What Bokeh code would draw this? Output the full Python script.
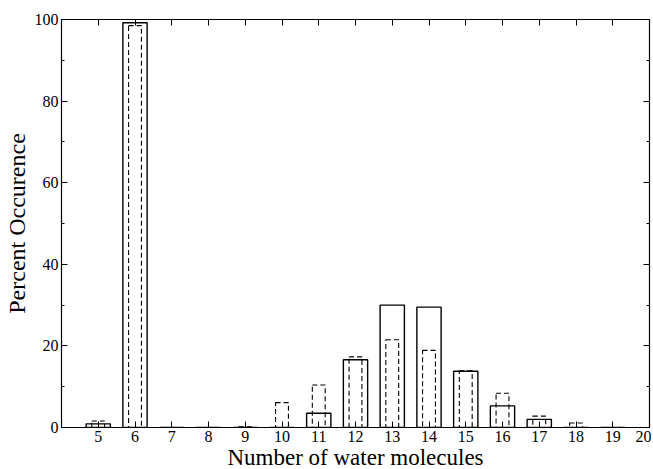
from bokeh.plotting import figure
from bokeh.models import Range1d, FixedTicker, LinearAxis, ColumnDataSource
from bokeh.embed import file_html
from bokeh.resources import INLINE

# Data
n_water = [5, 6, 7, 8, 9, 10, 11, 12, 13, 14, 15, 16, 17, 18, 19]
solid_pct = [0.9, 99.2, 0, 0, 0, 0, 3.5, 16.6, 30.0, 29.5, 13.8, 5.3, 2.0, 0, 0]
dashed_pct = [1.6, 98.5, 0, 0, 0.2, 6.1, 10.4, 17.3, 21.5, 18.9, 13.9, 8.4, 2.8, 1.1, 0]
x_ticks = [5, 6, 7, 8, 9, 10, 11, 12, 13, 14, 15, 16, 17, 18, 19, 20]
y_major = [0, 20, 40, 60, 80, 100]
y_minor = [10, 30, 50, 70, 90]

FONT = "Liberation Serif"

src = ColumnDataSource(dict(x=n_water, solid=solid_pct, dashed=dashed_pct))

p = figure(output_backend="svg", toolbar_location=None,
           x_range=Range1d(4, 20), y_range=Range1d(0, 100),
           frame_width=588, frame_height=408,
           min_border_left=5, min_border_right=2, min_border_top=19, min_border_bottom=0)

p.vbar(x="x", top="solid", bottom=0, width=0.66, source=src,
       fill_color=None, line_color="black", line_width=1.4)
p.vbar(x="x", top="dashed", bottom=0, width=0.35, source=src,
       fill_color=None, line_color="black", line_width=1.1, line_dash="5 3")

p.xgrid.visible = False
p.ygrid.visible = False
p.outline_line_color = "black"
p.outline_line_width = 1.2
p.background_fill_color = "white"
p.border_fill_color = "white"

xt = FixedTicker(ticks=x_ticks, minor_ticks=[])
yt = FixedTicker(ticks=y_major, minor_ticks=y_minor)

def style(ax):
    ax.major_tick_in = 6
    ax.major_tick_out = 0
    ax.minor_tick_in = 3
    ax.minor_tick_out = 0
    ax.axis_line_color = "black"
    ax.major_tick_line_color = "black"
    ax.minor_tick_line_color = "black"
    ax.major_label_text_font = FONT
    ax.major_label_text_font_size = "16px"
    ax.major_label_text_color = "black"
    ax.axis_label_text_font = FONT
    ax.axis_label_text_font_style = "normal"
    ax.axis_label_text_color = "black"

p.xaxis.ticker = xt
p.yaxis.ticker = yt
style(p.xaxis[0])
style(p.yaxis[0])
p.xaxis.axis_label = "Number of water molecules"
p.xaxis.axis_label_text_font_size = "23px"
p.xaxis.axis_label_standoff = 0
p.xaxis.major_label_standoff = 3
p.yaxis.axis_label = "Percent Occurence"
p.yaxis.axis_label_text_font_size = "24px"
p.yaxis.axis_label_standoff = 2
p.yaxis.major_label_standoff = 3

top_ax = LinearAxis(ticker=FixedTicker(ticks=x_ticks, minor_ticks=[]))
style(top_ax)
top_ax.major_label_overrides = {t: "" for t in x_ticks}
top_ax.major_label_standoff = 0
p.add_layout(top_ax, "above")
right_ax = LinearAxis(ticker=FixedTicker(ticks=y_major, minor_ticks=y_minor))
style(right_ax)
right_ax.major_label_overrides = {t: "" for t in y_major}
right_ax.major_label_standoff = 0
p.add_layout(right_ax, "right")

open("out.html", "w").write(file_html(p, INLINE))
